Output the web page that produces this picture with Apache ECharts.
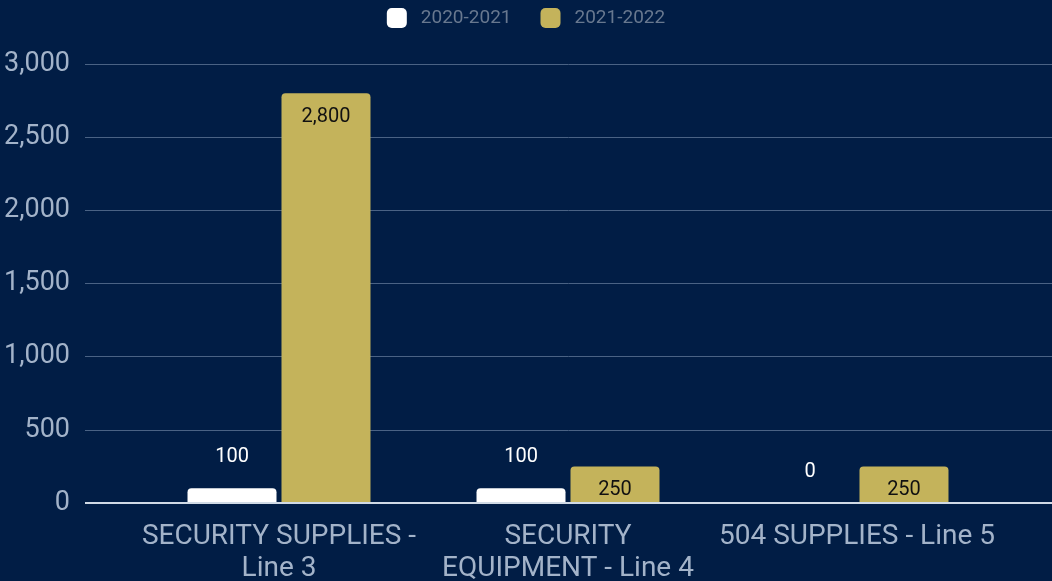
<!DOCTYPE html>
<html><head><meta charset="utf-8">
<script src="https://cdn.jsdelivr.net/npm/echarts@6/dist/echarts.min.js"></script>
<style>html,body{margin:0;padding:0;background:#011d45;}#c{width:1052px;height:581px;}</style>
</head><body><div id="c"></div>
<script>
const categories = ['SECURITY SUPPLIES -\nLine 3', 'SECURITY\nEQUIPMENT - Line 4', '504 SUPPLIES - Line 5'];
const series2020 = [100, 100, 0];
const series2021 = [2800, 250, 250];
const seriesNames = ['2020-2021', '2021-2022'];
const yTicks = [0, 500, 1000, 1500, 2000, 2500, 3000];

const chart = echarts.init(document.getElementById('c'));
const gridTop = 64, gridBottom = 581 - 503;
chart.setOption({
  animation: false,
  backgroundColor: '#011d45',
  textStyle: {fontFamily: 'Roboto'},
  legend: {
    top: 3, left: 'center', itemWidth: 20, itemHeight: 20, itemGap: 29,
    icon: 'roundRect',
    textStyle: {color: '#68788f', fontSize: 19, fontFamily: 'Roboto', padding: [0, 0, 0, 9]},
    data: seriesNames
  },
  grid: [
    {left: 85, right: 0, top: gridTop, bottom: gridBottom, containLabel: false, outerBoundsMode: 'none'},
    {left: 134.5, right: 50.5, top: gridTop, bottom: gridBottom, containLabel: false, outerBoundsMode: 'none'}
  ],
  xAxis: [
    {gridIndex: 0, type: 'category', data: categories, show: false},
    {gridIndex: 1, type: 'category', data: categories,
     axisLine: {show: false}, axisTick: {show: false},
     axisLabel: {color: '#a3b3c9', fontSize: 28, lineHeight: 32, margin: 18, fontFamily: 'Roboto', interval: 0}}
  ],
  yAxis: [
    {gridIndex: 0, type: 'value', min: yTicks[0], max: yTicks[yTicks.length-1], interval: 500,
     axisLine: {show: false}, axisTick: {show: false},
     axisLabel: {color: '#a3b3c9', fontSize: 27, margin: 15, fontFamily: 'Roboto',
       formatter: v => v.toLocaleString('en-US')},
     splitLine: {lineStyle: {color: '#4a6284', width: 1}}},
    {gridIndex: 1, type: 'value', min: yTicks[0], max: yTicks[yTicks.length-1], interval: 500, show: false,
     splitLine: {show: false}}
  ],
  series: [
    {name: seriesNames[0], type: 'bar', xAxisIndex: 1, yAxisIndex: 1, data: series2020,
     barWidth: 89, barGap: '5.6%',
     itemStyle: {color: '#ffffff', borderRadius: [4, 4, 0, 0]},
     label: {show: true, position: 'top', distance: 21, color: '#ffffff', fontSize: 20, fontFamily: 'Roboto',
       formatter: p => p.value.toLocaleString('en-US')}},
    {name: seriesNames[1], type: 'bar', xAxisIndex: 1, yAxisIndex: 1, data: series2021,
     barWidth: 89,
     itemStyle: {color: '#c4b35b', borderRadius: [4, 4, 0, 0]},
     label: {show: true, position: 'insideTop', distance: 14, color: '#111111', fontSize: 20, fontFamily: 'Roboto',
       formatter: p => p.value.toLocaleString('en-US')}},
    {type: 'line', xAxisIndex: 0, yAxisIndex: 0, data: [], silent: true,
     markLine: {silent: true, symbol: 'none', label: {show: false},
       lineStyle: {color: '#d0dae6', width: 2, type: 'solid'}, data: [{yAxis: 0}]}}
  ]
});
</script></body></html>
